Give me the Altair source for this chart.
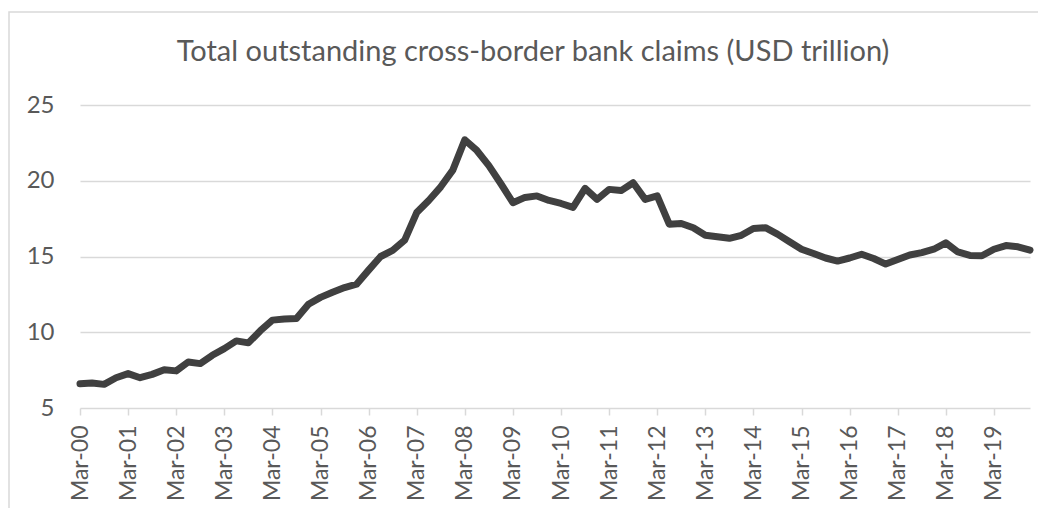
import altair as alt
import pandas as pd

title_text = "Total outstanding cross-border bank claims (USD trillion)"

years = list(range(2000, 2020))
months = ["Mar", "Jun", "Sep", "Dec"]
quarters = [f"{m}-{y % 100:02d}" for y in years for m in months]

claims = [
    6.6, 6.65, 6.56, 7.0,
    7.27, 7.0, 7.22, 7.53,
    7.45, 8.04, 7.93, 8.48,
    8.92, 9.43, 9.3, 10.1,
    10.8, 10.88, 10.9, 11.85,
    12.3, 12.64, 12.95, 13.17,
    14.1, 15.0, 15.4, 16.08,
    17.9, 18.7, 19.6, 20.7,
    22.7, 22.0, 21.0, 19.8,
    18.55, 18.9, 19.0, 18.7,
    18.5, 18.24, 19.5, 18.77,
    19.43, 19.35, 19.87, 18.77,
    19.0, 17.13, 17.18, 16.9,
    16.4, 16.3, 16.2, 16.4,
    16.85, 16.9, 16.48, 15.97,
    15.48, 15.2, 14.9, 14.7,
    14.9, 15.15, 14.87, 14.5,
    14.8, 15.1, 15.26, 15.48,
    15.9, 15.3, 15.07, 15.05,
    15.48, 15.72, 15.64, 15.42,
]

y_ticks = [5, 10, 15, 20, 25]
x_ticks = [q for q in quarters if q.startswith("Mar")]

df = pd.DataFrame({"quarter": quarters, "value": claims})

FONT = "Lato"
GRAY_TEXT = "#595959"
GRID = "#d9d9d9"

border = alt.Chart(alt.Data(values=[{"a": 1}])).mark_rect(
    fillOpacity=0, stroke=GRID, strokeWidth=1.5
).encode(
    x=alt.value(-71), x2=alt.value(990), y=alt.value(-93), y2=alt.value(440)
)

line = alt.Chart(df).mark_line(
    color="#404040", strokeWidth=7, strokeCap="round", strokeJoin="round"
).encode(
    x=alt.X(
        "quarter:O",
        sort=quarters,
        scale=alt.Scale(type="point", padding=0),
        axis=alt.Axis(
            values=x_ticks,
            title=None,
            labelAngle=270,
            labelFont=FONT,
            labelFontSize=23,
            labelColor=GRAY_TEXT,
            labelPadding=10,
            domain=False,
            ticks=True,
            tickSize=7,
            tickColor=GRID,
            tickWidth=1.5,
            grid=False,
        ),
    ),
    y=alt.Y(
        "value:Q",
        scale=alt.Scale(domain=[5, 25], nice=False, zero=False),
        axis=alt.Axis(
            values=y_ticks,
            title=None,
            labelFont=FONT,
            labelFontSize=24,
            labelColor=GRAY_TEXT,
            labelPadding=26,
            domain=False,
            ticks=False,
            grid=True,
            gridColor=GRID,
            gridWidth=1.5,
        ),
    ),
)

title = alt.Chart(alt.Data(values=[{"t": title_text}])).mark_text(
    font=FONT, fontSize=29, color=GRAY_TEXT, align="center", baseline="alphabetic"
).encode(
    text="t:N", x=alt.value(453), y=alt.value(-44)
)

chart = alt.layer(border, line, title).properties(
    width=950,
    height=303,
    padding={"left": 72, "top": 97, "right": 8, "bottom": 100},
    autosize=alt.AutoSizeParams(type="none"),
    background="white",
).configure_view(stroke=None)

chart.save("out.html", embed_options={"renderer": "svg", "actions": False})
